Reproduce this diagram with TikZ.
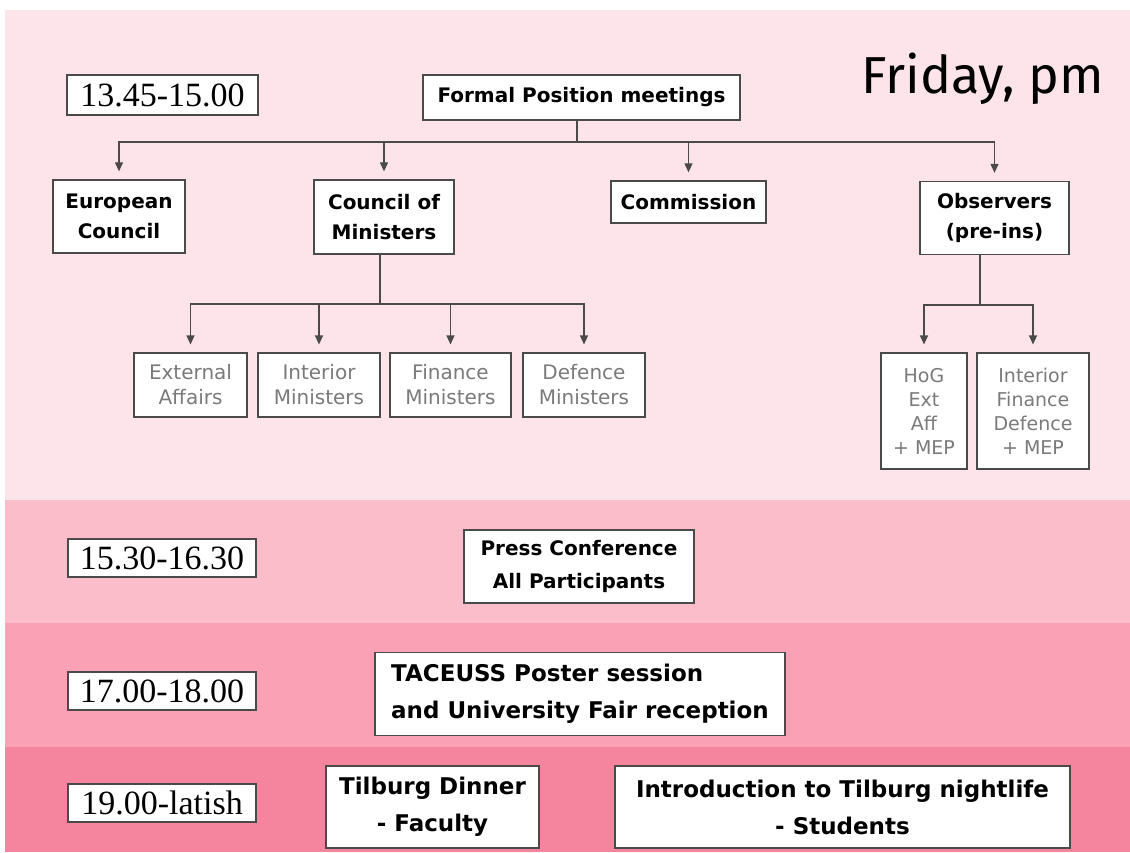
\documentclass[tikz,border=0pt]{standalone}
\usepackage{fontspec}
\setmainfont{Liberation Serif}
\setsansfont{Fira Sans}
\newfontfamily\boxfont{DejaVu Sans}
\usetikzlibrary{arrows.meta, positioning}
\definecolor{bandone}{HTML}{FCE4EA}
\definecolor{bandtwo}{HTML}{FCBDCB}
\definecolor{bandthree}{HTML}{FAA1B5}
\definecolor{bandfour}{HTML}{F5849E}
\definecolor{boxline}{HTML}{4A4A4A}
\definecolor{subtext}{HTML}{7A7A7A}

\begin{document}
\begin{tikzpicture}[
    x=1pt, y=-1pt,
    slot/.style  = {rectangle, draw=boxline, line width=1.3pt, fill=white,
                    inner sep=0pt, font=\fontsize{34}{36}\selectfont},
    evt/.style   = {rectangle, draw=boxline, line width=1.3pt, fill=white,
                    inner sep=0pt, align=center,
                    font=\boxfont\bfseries\fontsize{20}{30}\selectfont},
    big/.style   = {evt, font=\boxfont\bfseries\fontsize{23}{37}\selectfont},
    sub/.style   = {rectangle, draw=boxline, line width=1.1pt, fill=white,
                    inner sep=0pt, align=center, text=subtext,
                    font=\boxfont\fontsize{20}{25}\selectfont},
    link/.style  = {line width=1.1pt, color=boxline},
    arr/.style   = {link, -{Triangle[length=9pt, width=8pt]}, shorten >=8pt}
  ]
  \useasboundingbox (0,0) rectangle (1130,852);

  % ── Background bands ─────────────────────────────────────────────────────
  \fill[white]      (0,0)   rectangle (1130,852);
  \fill[bandone]    (5,10)  rectangle (1130,500);
  \fill[bandtwo]    (5,500) rectangle (1130,623);
  \fill[bandthree]  (5,623) rectangle (1130,747);
  \fill[bandfour]   (5,747) rectangle (1130,852);

  % ── 13.45-15.00: Formal Position meetings ────────────────────────────────
  \node[slot, minimum width=191, minimum height=40] (t1) at (162.5,95) {13.45-15.00};
  \node[font=\sffamily\fontsize{52}{60}\selectfont, anchor=base] (day) at (983,93) {Friday, pm};
  \node[evt, minimum width=317, minimum height=45] (fpm) at (581.5,97.5) {Formal Position meetings};

  \node[evt, minimum width=132, minimum height=73] (eu)   at (119,216.5)   {European\\Council};
  \node[evt, minimum width=140, minimum height=74] (cm)   at (384,217)     {Council of\\Ministers};
  \node[evt, minimum width=155, minimum height=42] (comm) at (688.5,202)   {Commission};
  \node[evt, minimum width=149, minimum height=73] (obs)  at (994.5,218)   {Observers\\(pre-ins)};

  \node[sub, minimum width=113, minimum height=64] (ext) at (190.5,385) {External\\Affairs};
  \node[sub, minimum width=122, minimum height=64] (int) at (319,385)   {Interior\\Ministers};
  \node[sub, minimum width=121, minimum height=64] (fin) at (450.5,385) {Finance\\Ministers};
  \node[sub, minimum width=122, minimum height=64] (def) at (584,385)   {Defence\\Ministers};

  \node[sub, minimum width=86,  minimum height=116,
        font=\boxfont\fontsize{19}{24}\selectfont] (hog) at (924,411)  {HoG\\Ext\\Aff\\+ MEP};
  \node[sub, minimum width=112, minimum height=116,
        font=\boxfont\fontsize{19}{24}\selectfont] (ifd) at (1033,411) {Interior\\Finance\\Defence\\+ MEP};

  % ── Connectors ───────────────────────────────────────────────────────────
  \coordinate (bar1) at (577,142);
  \coordinate (bar2) at (380,304);
  \coordinate (bar3) at (980,305);
  \draw[link] (fpm.south -| bar1) -- (bar1);
  \foreach \c in {eu, cm, comm, obs} \draw[arr] (bar1) -| (\c.north);
  \draw[link] (cm.south -| bar2) -- (bar2);
  \foreach \c in {ext, int, fin, def} \draw[arr] (bar2) -| (\c.north);
  \draw[link] (obs.south -| bar3) -- (bar3);
  \foreach \c in {hog, ifd} \draw[arr] (bar3) -| (\c.north);

  % ── 15.30-16.30: Press Conference ────────────────────────────────────────
  \node[slot, minimum width=188, minimum height=38] (t2) at (162,558) {15.30-16.30};
  \node[evt, minimum width=230, minimum height=73,
        font=\boxfont\bfseries\fontsize{20}{33}\selectfont] (press) at (579,566.5)
        {Press Conference\\All Participants};

  % ── 17.00-18.00: Poster session ──────────────────────────────────────────
  \node[slot, minimum width=188, minimum height=38] (t3) at (162,691) {17.00-18.00};
  \node[big, minimum width=410, minimum height=83, align=left] (poster) at (580,694)
        {TACEUSS Poster session\\and University Fair reception};

  % ── 19.00-latish: Evening ────────────────────────────────────────────────
  \node[slot, minimum width=188, minimum height=38] (t4) at (162,803) {19.00-latish};
  \node[big, minimum width=213, minimum height=82] (dinner) at (432.5,807) {Tilburg Dinner\\- Faculty};
  \node[big, minimum width=455, minimum height=82] (night)  at (842.5,807)
        {Introduction to Tilburg nightlife\\- Students};
\end{tikzpicture}
\end{document}
